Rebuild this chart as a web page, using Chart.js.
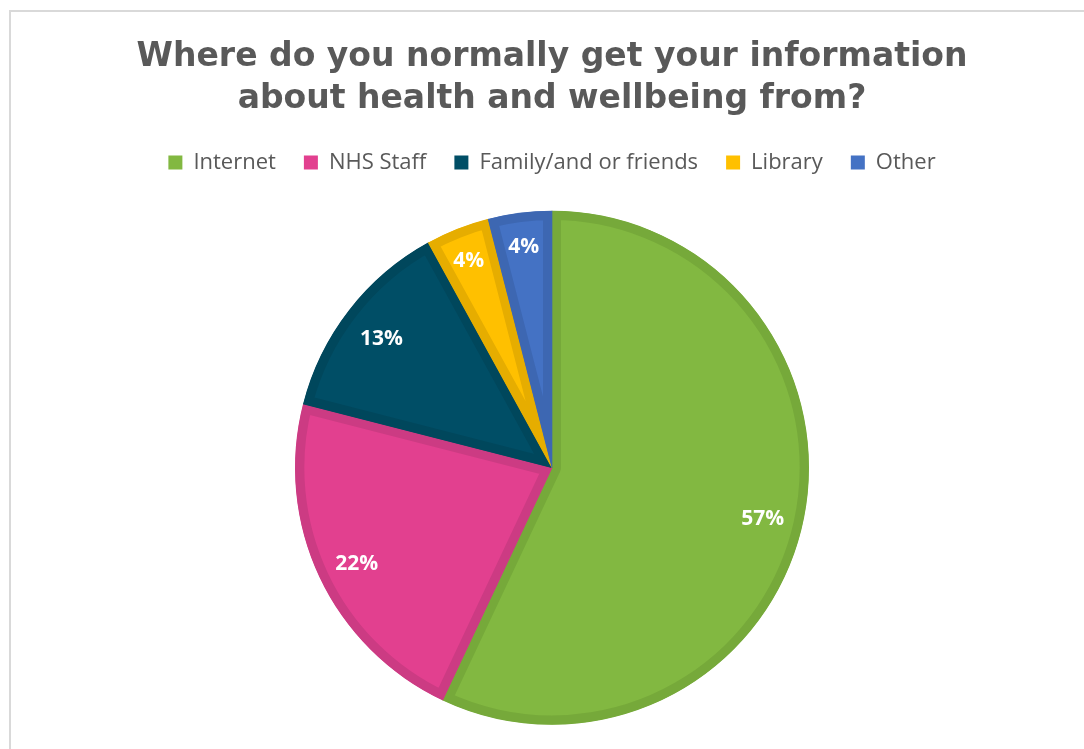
<!DOCTYPE html>
<html>
<head>
<meta charset="utf-8">
<script src="https://cdn.jsdelivr.net/npm/chart.js@4.4.0/dist/chart.umd.min.js"></script>
<style>
  html, body { margin: 0; padding: 0; background: #fff; overflow: hidden; width: 1084px; height: 749px; }
  #frame { position: absolute; left: 9px; top: 10px; width: 1200px; height: 900px; border: 2px solid #d9d9d9; box-sizing: border-box; }
  #wrap { position: absolute; left: 10px; top: 0; width: 1084px; height: 760px; }
</style>
</head>
<body>
<div id="frame"></div>
<div id="wrap"><canvas id="chartFuentes"></canvas></div>
<script>
// Sources of health information
const categorias = ['Internet', 'NHS Staff', 'Family/and or friends', 'Library', 'Other'];
const porcentajes = [57, 22, 13, 4, 4];
const colores = ['#82B841', '#E2408F', '#004E66', '#FFC000', '#4472C4'];
const bordes = ['#76A93A', '#CC3B83', '#00475C', '#E6AD00', '#3D67B2'];

const fuente = "'Open Sans', sans-serif";

// percentage labels inside each slice
const etiquetas = {
  id: 'etiquetas',
  afterDatasetsDraw(chart) {
    const ctx = chart.ctx;
    const meta = chart.getDatasetMeta(0);
    ctx.save();
    ctx.fillStyle = '#ffffff';
    ctx.font = 'bold 21px ' + fuente;
    ctx.textAlign = 'center';
    ctx.textBaseline = 'middle';
    meta.data.forEach((arc, i) => {
      const p = arc.getProps(['x', 'y', 'startAngle', 'endAngle', 'outerRadius'], true);
      const mid = (p.startAngle + p.endAngle) / 2;
      const r = p.outerRadius * (porcentajes[i] < 6 ? 0.88 : 0.84);
      ctx.fillText(porcentajes[i] + '%', p.x + Math.cos(mid) * r, p.y + Math.sin(mid) * r + 4);
    });
    ctx.restore();
  }
};

new Chart(document.getElementById('chartFuentes'), {
  type: 'pie',
  data: {
    labels: categorias,
    datasets: [{
      data: porcentajes,
      backgroundColor: colores,
      borderColor: bordes,
      borderWidth: 9,
      borderAlign: 'inner',
      radius: 257
    }]
  },
  options: {
    responsive: true,
    maintainAspectRatio: false,
    animation: false,
    layout: { padding: { bottom: 8 } },
    plugins: {
      title: {
        display: true,
        text: ['Where do you normally get your information', 'about health and wellbeing from?'],
        color: '#595959',
        font: { family: "'DejaVu Sans', sans-serif", size: 33, weight: 'bold', lineHeight: 1.28 },
        padding: { top: 36, bottom: 3 }
      },
      legend: {
        position: 'top',
        labels: {
          color: '#595959',
          font: { family: fuente, size: 22 },
          boxWidth: 14,
          boxHeight: 14,
          padding: 28,
          generateLabels(chart) {
            return categorias.map((c, i) => ({
              text: c,
              fillStyle: colores[i],
              strokeStyle: colores[i],
              lineWidth: 0,
              fontColor: '#595959',
              index: i,
              hidden: false
            }));
          }
        }
      },
      tooltip: { enabled: false }
    }
  },
  plugins: [etiquetas]
});
</script>
</body>
</html>
